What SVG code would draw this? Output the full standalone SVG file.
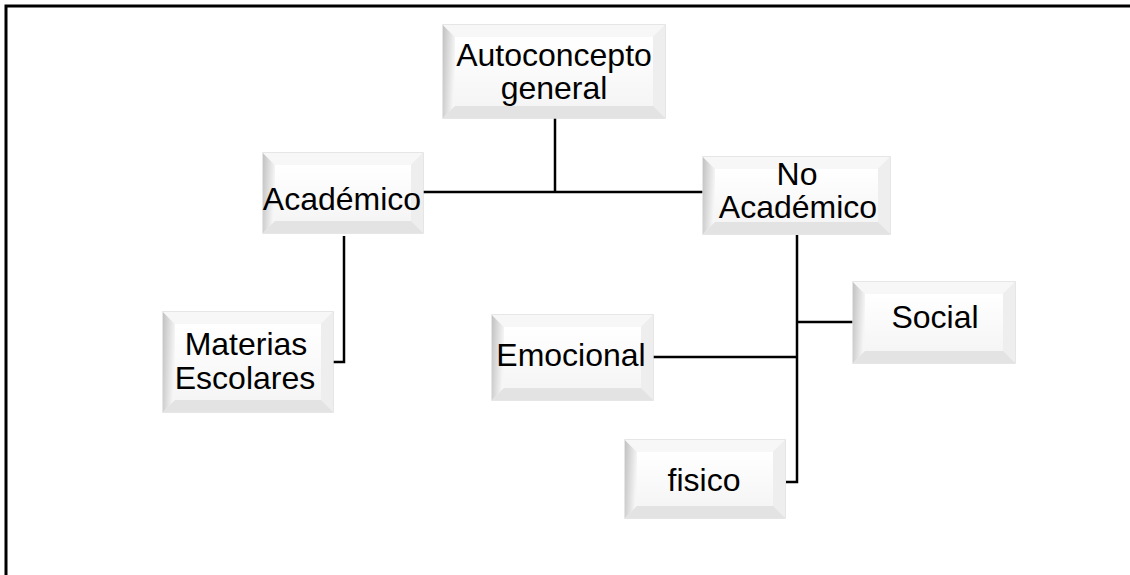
<svg xmlns="http://www.w3.org/2000/svg" width="1130" height="575" viewBox="0 0 1130 575">
<defs>
<linearGradient id="gl" x1="0" y1="0" x2="1" y2="0.3">
<stop offset="0" stop-color="#c2c2c2"/><stop offset="1" stop-color="#f6f6f6"/>
</linearGradient>
<linearGradient id="gf" x1="0" y1="0" x2="0" y2="1">
<stop offset="0" stop-color="#ffffff"/><stop offset="1" stop-color="#f5f5f5"/>
</linearGradient>
<style>
.o{fill:#eeeeee;stroke:#dedede;stroke-width:1.5}
.l{fill:url(#gl)}
.t{fill:#f7f7f7}
.r{fill:#eeeeee}
.b{fill:#e3e3e3}
.f{fill:url(#gf)}
.tx{font-family:"Liberation Sans",Arial,sans-serif;font-size:32px;fill:#000;text-anchor:middle}
.c{fill:none;stroke:#000;stroke-width:2.5}
</style>
</defs>
<rect width="1130" height="575" fill="#fff"/>
<path d="M6 575 V6 H1130" fill="none" stroke="#000" stroke-width="3"/>
<g id="connectors">
<path class="c" d="M555 118 V192"/>
<path class="c" d="M423 192 H703"/>
<path class="c" d="M344 236 V362 H333"/>
<path class="c" d="M797 235 V482 H786"/>
<path class="c" d="M797 322 H853"/>
<path class="c" d="M653 357 H797"/>
</g>
<g id="autoconcepto">
<rect class="o" x="443" y="25" width="222" height="93"/>
<polygon class="l" points="443,25 455,37 455,106 443,118"/>
<polygon class="t" points="443,25 665,25 653,37 455,37"/>
<polygon class="r" points="665,25 665,118 653,106 653,37"/>
<polygon class="b" points="443,118 665,118 653,106 455,106"/>
<rect class="f" x="455" y="37" width="198" height="69"/>
<text class="tx" x="554" y="66">Autoconcepto</text>
<text class="tx" x="554" y="99">general</text>
</g>
<g id="academico">
<rect class="o" x="263" y="153" width="160" height="80"/>
<polygon class="l" points="263,153 275,165 275,221 263,233"/>
<polygon class="t" points="263,153 423,153 411,165 275,165"/>
<polygon class="r" points="423,153 423,233 411,221 411,165"/>
<polygon class="b" points="263,233 423,233 411,221 275,221"/>
<rect class="f" x="275" y="165" width="136" height="56"/>
<text class="tx" x="342" y="210">Académico</text>
</g>
<g id="noacademico">
<rect class="o" x="703" y="157" width="187" height="77"/>
<polygon class="l" points="703,157 715,169 715,222 703,234"/>
<polygon class="t" points="703,157 890,157 878,169 715,169"/>
<polygon class="r" points="890,157 890,234 878,222 878,169"/>
<polygon class="b" points="703,234 890,234 878,222 715,222"/>
<rect class="f" x="715" y="169" width="163" height="53"/>
<text class="tx" x="797" y="185">No</text>
<text class="tx" x="798" y="218">Académico</text>
</g>
<g id="materias">
<rect class="o" x="163" y="312" width="170" height="100"/>
<polygon class="l" points="163,312 175,324 175,400 163,412"/>
<polygon class="t" points="163,312 333,312 321,324 175,324"/>
<polygon class="r" points="333,312 333,412 321,400 321,324"/>
<polygon class="b" points="163,412 333,412 321,400 175,400"/>
<rect class="f" x="175" y="324" width="146" height="76"/>
<text class="tx" x="246" y="355">Materias</text>
<text class="tx" x="245" y="389">Escolares</text>
</g>
<g id="emocional">
<rect class="o" x="492" y="315" width="161" height="85"/>
<polygon class="l" points="492,315 504,327 504,388 492,400"/>
<polygon class="t" points="492,315 653,315 641,327 504,327"/>
<polygon class="r" points="653,315 653,400 641,388 641,327"/>
<polygon class="b" points="492,400 653,400 641,388 504,388"/>
<rect class="f" x="504" y="327" width="137" height="61"/>
<text class="tx" x="571" y="366">Emocional</text>
</g>
<g id="social">
<rect class="o" x="853" y="282" width="162" height="81"/>
<polygon class="l" points="853,282 865,294 865,351 853,363"/>
<polygon class="t" points="853,282 1015,282 1003,294 865,294"/>
<polygon class="r" points="1015,282 1015,363 1003,351 1003,294"/>
<polygon class="b" points="853,363 1015,363 1003,351 865,351"/>
<rect class="f" x="865" y="294" width="138" height="57"/>
<text class="tx" x="935" y="328">Social</text>
</g>
<g id="fisico">
<rect class="o" x="625" y="440" width="160" height="78"/>
<polygon class="l" points="625,440 637,452 637,506 625,518"/>
<polygon class="t" points="625,440 785,440 773,452 637,452"/>
<polygon class="r" points="785,440 785,518 773,506 773,452"/>
<polygon class="b" points="625,518 785,518 773,506 637,506"/>
<rect class="f" x="637" y="452" width="136" height="54"/>
<text class="tx" x="704" y="491">fisico</text>
</g>
</svg>
